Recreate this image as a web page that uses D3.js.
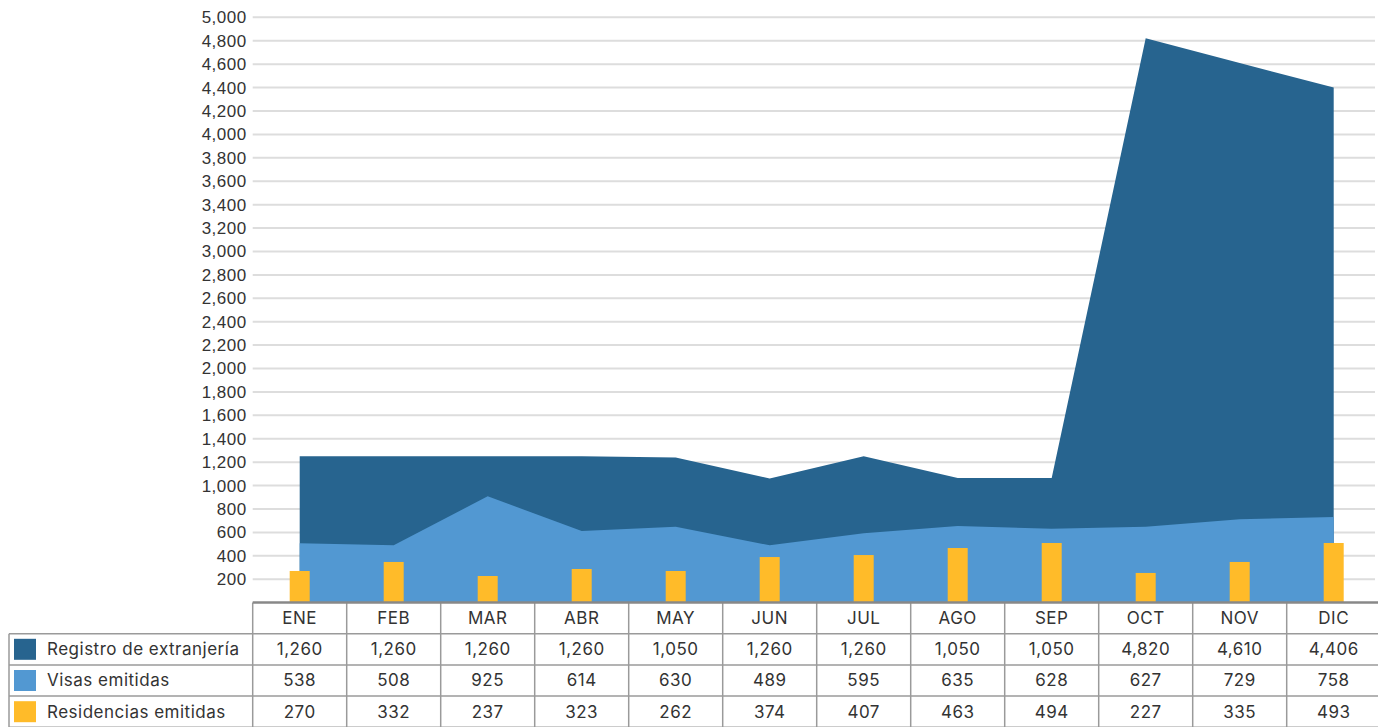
<!DOCTYPE html>
<html>
<head>
<meta charset="utf-8">
<script src="https://cdn.jsdelivr.net/npm/d3@7"></script>
<style>
  body { margin: 0; background: #fff; }
  svg { display: block; font-family: Inter, "Noto Sans", sans-serif; letter-spacing: 0.5px; }
</style>
</head>
<body>
<svg width="1378" height="727"></svg>
<script>
var months = ["ENE", "FEB", "MAR", "ABR", "MAY", "JUN", "JUL", "AGO", "SEP", "OCT", "NOV", "DIC"];

// values as drawn in the chart
var registro = [1250, 1250, 1250, 1250, 1240, 1060, 1250, 1065, 1065, 4820, 4610, 4400];
var visas = [507, 490, 909, 612, 649, 490, 593, 655, 632, 649, 712, 732];
var residencias = [271, 348, 228, 288, 271, 390, 407, 467, 510, 254, 348, 510];

// values as printed in the data table
var registroTxt = ["1,260", "1,260", "1,260", "1,260", "1,050", "1,260", "1,260", "1,050", "1,050", "4,820", "4,610", "4,406"];
var visasTxt = ["538", "508", "925", "614", "630", "489", "595", "635", "628", "627", "729", "758"];
var residenciasTxt = ["270", "332", "237", "323", "262", "374", "407", "463", "494", "227", "335", "493"];

var yTicks = d3.range(200, 5001, 200);

var seriesNames = ["Registro de extranjería", "Visas emitidas", "Residencias emitidas"];
var seriesColors = ["#27648f", "#5298d2", "#ffbb29"];

var svg = d3.select("svg");
var plotLeft = 252.7, plotBottom = 602.7, plotTop = 17.3;
var fontSize = 17;

var x = d3.scaleBand().domain(months).range([plotLeft, plotLeft + 94 * 12]);
var y = d3.scaleLinear().domain([0, 5000]).range([plotBottom, plotTop]);
var cx = function(d, i) { return x(months[i]) + x.bandwidth() / 2; };

// grid
svg.append("g").selectAll("line")
  .data(yTicks).enter().append("line")
  .attr("x1", plotLeft).attr("x2", 1375)
  .attr("y1", function(d) { return y(d); })
  .attr("y2", function(d) { return y(d); })
  .attr("stroke", "#dddddd").attr("stroke-width", 2);

var yAxis = svg.append("g")
  .attr("transform", "translate(" + (plotLeft - 6) + ",0)")
  .call(d3.axisLeft(y).tickValues(yTicks).tickSize(0).tickPadding(0).tickFormat(d3.format(",")));
yAxis.select(".domain").remove();
yAxis.selectAll("text").attr("font-size", fontSize).attr("fill", "#333")
  .attr("font-family", null);

var area = function(vals) {
  return d3.area()
    .x(cx)
    .y0(y(0))
    .y1(function(d) { return y(d); })(vals);
};

svg.append("path").attr("d", area(registro)).attr("fill", seriesColors[0]);
svg.append("path").attr("d", area(visas)).attr("fill", seriesColors[1]);

svg.append("g").selectAll("rect")
  .data(residencias).enter().append("rect")
  .attr("x", function(d, i) { return cx(d, i) - 10; })
  .attr("width", 20)
  .attr("y", function(d) { return y(d); })
  .attr("height", function(d) { return y(0) - y(d); })
  .attr("fill", seriesColors[2]);

// data table
var rowY = [602.5, 633.7, 664.9, 696.1, 727.3];
var tbl = svg.append("g");
var lineCol = "#9a9a9a";

// horizontal lines
[1, 2, 3, 4].forEach(function(r) {
  tbl.append("line").attr("x1", 9).attr("x2", 1378).attr("y1", rowY[r]).attr("y2", rowY[r])
    .attr("stroke", lineCol).attr("stroke-width", 1.5);
});
// vertical lines
tbl.append("line").attr("x1", 9).attr("x2", 9).attr("y1", rowY[1]).attr("y2", rowY[4])
  .attr("stroke", lineCol).attr("stroke-width", 1.5);
d3.range(13).forEach(function(k) {
  var xx = plotLeft + k * x.bandwidth();
  tbl.append("line").attr("x1", xx).attr("x2", xx).attr("y1", rowY[0]).attr("y2", rowY[4])
    .attr("stroke", lineCol).attr("stroke-width", 1.5);
});
tbl.append("line").attr("x1", plotLeft).attr("x2", 1378).attr("y1", rowY[0]).attr("y2", rowY[0])
  .attr("stroke", "#888").attr("stroke-width", 2.5);

// header
tbl.append("g").selectAll("text").data(months).enter().append("text")
  .attr("x", function(d) { return x(d) + x.bandwidth() / 2; })
  .attr("y", (rowY[0] + rowY[1]) / 2)
  .attr("dy", "0.35em").attr("text-anchor", "middle")
  .attr("font-size", fontSize).attr("fill", "#333").text(function(d) { return d; });

var rows = [registroTxt, visasTxt, residenciasTxt];
rows.forEach(function(vals, r) {
  var my = (rowY[r + 1] + rowY[r + 2]) / 2;
  tbl.append("rect").attr("x", 14).attr("y", my - 10.5).attr("width", 22).attr("height", 21)
    .attr("fill", seriesColors[r]);
  tbl.append("text").attr("x", 47).attr("y", my).attr("dy", "0.35em")
    .attr("font-size", fontSize).attr("fill", "#333").text(seriesNames[r]);
  tbl.append("g").selectAll("text").data(vals).enter().append("text")
    .attr("x", function(d, i) { return cx(d, i); })
    .attr("y", my).attr("dy", "0.35em").attr("text-anchor", "middle")
    .attr("font-size", fontSize).attr("fill", "#333").text(function(d) { return d; });
});
</script>
</body>
</html>
